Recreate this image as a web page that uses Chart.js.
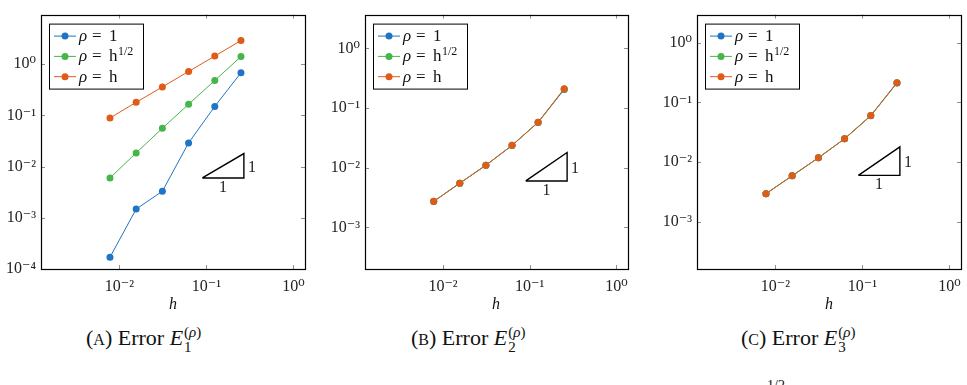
<!DOCTYPE html>
<html>
<head>
<meta charset="utf-8">
<script src="https://cdn.jsdelivr.net/npm/chart.js@4.4.0/dist/chart.umd.min.js"></script>
<style>
body { margin: 0; background: #fff; width: 967px; height: 385px; overflow: hidden; position: relative; font-family: 'Liberation Serif', 'DejaVu Serif', serif; color: #111; }
canvas { position: absolute; top: 0; }
.hlab { position: absolute; top: 296px; font-style: italic; font-size: 16px; line-height: 16px; transform: translateX(-50%); }
.cap { position: absolute; top: 325px; font-size: 22px; line-height: 25px; white-space: nowrap; }
.cap .sc { font-size: 16px; }
.cap .ss { display: inline-block; vertical-align: -7px; font-size: 15px; line-height: 15px; margin-left: 1px; }
.cap .ss span { display: block; }
.frag { position: absolute; top: 379px; left: 767px; font-size: 14px; line-height: 14px; }
</style>
</head>
<body>
<canvas id="chartA" width="315" height="300"></canvas>
<canvas id="chartB" width="314" height="300"></canvas>
<canvas id="chartC" width="315" height="300"></canvas>

<div class="hlab" style="left:173px">h</div>
<div class="hlab" style="left:496px">h</div>
<div class="hlab" style="left:829px">h</div>

<div class="cap" style="left:86px">(<span class="sc">A</span>) Error <i>E</i><span class="ss"><span>(<i>ρ</i>)</span><span>1</span></span></div>
<div class="cap" style="left:411px">(<span class="sc">B</span>) Error <i>E</i><span class="ss"><span>(<i>ρ</i>)</span><span>2</span></span></div>
<div class="cap" style="left:741px">(<span class="sc">C</span>) Error <i>E</i><span class="ss"><span>(<i>ρ</i>)</span><span>3</span></span></div>
<div class="frag">1/2</div>

<script>
// mesh sizes h
const hValues = [0.0078125, 0.015625, 0.03125, 0.0625, 0.125, 0.25];

// panel A: error E1
const errA_rho1 = [1.7e-4, 1.48e-3, 3.3e-3, 0.029, 0.15, 0.68];
const errA_rhoSqrtH = [6.0e-3, 0.0185, 0.056, 0.165, 0.48, 1.41];
const errA_rhoH = [0.089, 0.18, 0.36, 0.72, 1.44, 2.9];

// panel B: error E2
const errB_rho1 = [2.72e-3, 5.5e-3, 0.011, 0.0236, 0.0575, 0.205];
const errB_rhoSqrtH = [2.73e-3, 5.5e-3, 0.011, 0.0237, 0.058, 0.209];
const errB_rhoH = [2.73e-3, 5.5e-3, 0.011, 0.0237, 0.058, 0.212];

// panel C: error E3
const errC_rho1 = [2.95e-3, 5.9e-3, 0.0118, 0.0245, 0.0595, 0.211];
const errC_rhoSqrtH = [2.96e-3, 5.9e-3, 0.0118, 0.0246, 0.060, 0.213];
const errC_rhoH = [2.96e-3, 5.9e-3, 0.0118, 0.0246, 0.060, 0.214];

// slope-1 reference triangle
const slopeX = [0.09, 0.27, 0.27, 0.09];
const slopeY = [0.006, 0.006, 0.018, 0.006];

// axes
const xRange = [0.00126, 1.36];
const xTicks = [0.01, 0.1, 1];
const xTickLabels = ['10⁻²', '10⁻¹', '10⁰'];
const yRangeA = [1e-4, 9.3];
const yRangeB = [2.0e-4, 3.7];
const yRangeC = [1.62e-4, 2.95];
const yTicksA = [1e-4, 1e-3, 1e-2, 1e-1, 1];
const yTickLabelsA = ['10⁻⁴', '10⁻³', '10⁻²', '10⁻¹', '10⁰'];
const yTicksBC = [1e-3, 1e-2, 1e-1, 1];
const yTickLabelsBC = ['10⁻³', '10⁻²', '10⁻¹', '10⁰'];

const seriesColors = ['#1f74c6', '#45b649', '#e05a18'];
const legendValues = ['1', 'h^1/2', 'h'];

const serif = "'Liberation Serif', 'DejaVu Serif', serif";

function drawLegend(chart) {
    const ctx = chart.ctx;
    const a = chart.chartArea;
    const x0 = a.left + 8, y0 = a.top + 9;
    ctx.save();
    ctx.fillStyle = '#fff';
    ctx.fillRect(x0, y0, 94, 65);
    ctx.strokeStyle = '#000';
    ctx.lineWidth = 1;
    ctx.strokeRect(x0 + 0.5, y0 + 0.5, 94, 65);
    legendValues.forEach((v, i) => {
        const cy = y0 + 12.5 + i * 20.3;
        ctx.strokeStyle = seriesColors[i];
        ctx.lineWidth = 1;
        ctx.beginPath();
        ctx.moveTo(x0 + 5, cy);
        ctx.lineTo(x0 + 27, cy);
        ctx.stroke();
        ctx.fillStyle = seriesColors[i];
        ctx.beginPath();
        ctx.arc(x0 + 16, cy, 3.5, 0, Math.PI * 2);
        ctx.fill();
        ctx.fillStyle = '#111';
        ctx.textBaseline = 'alphabetic';
        ctx.font = 'italic 17px ' + serif;
        ctx.fillText('ρ', x0 + 30, cy + 5);
        ctx.font = '17px ' + serif;
        ctx.fillText('=', x0 + 43, cy + 5);
        if (v === 'h^1/2') {
            ctx.fillText('h', x0 + 60, cy + 5);
            ctx.font = '12px ' + serif;
            ctx.fillText('1/2', x0 + 69, cy - 1);
        } else {
            ctx.fillText(v, x0 + 60, cy + 5);
        }
    });
    ctx.restore();
}

const framePlugin = {
    id: 'frame',
    afterDraw(chart) {
        const ctx = chart.ctx;
        const a = chart.chartArea;
        const xs = chart.scales.x, ys = chart.scales.y;
        ctx.save();
        // inner tick marks on all four sides
        ctx.strokeStyle = '#8c8c8c';
        ctx.lineWidth = 1;
        ctx.beginPath();
        xs.ticks.forEach(t => {
            const px = Math.round(xs.getPixelForValue(t.value)) + 0.5;
            ctx.moveTo(px, a.bottom); ctx.lineTo(px, a.bottom - 4);
            ctx.moveTo(px, a.top); ctx.lineTo(px, a.top + 4);
        });
        ys.ticks.forEach(t => {
            const py = Math.round(ys.getPixelForValue(t.value)) + 0.5;
            ctx.moveTo(a.left, py); ctx.lineTo(a.left + 4, py);
            ctx.moveTo(a.right, py); ctx.lineTo(a.right - 4, py);
        });
        ctx.stroke();
        // axis box
        ctx.strokeStyle = '#000';
        ctx.lineWidth = 1.2;
        ctx.strokeRect(Math.round(a.left) + 0.5, Math.round(a.top) + 0.5,
            Math.round(a.right - a.left), Math.round(a.bottom - a.top));
        // slope triangle labels
        ctx.fillStyle = '#222';
        ctx.font = '16px ' + serif;
        ctx.textAlign = 'center';
        ctx.textBaseline = 'alphabetic';
        const midX = Math.sqrt(slopeX[0] * slopeX[1]);
        const midY = Math.sqrt(slopeY[1] * slopeY[2]);
        ctx.fillText('1', xs.getPixelForValue(midX), ys.getPixelForValue(slopeY[0]) + 14);
        ctx.textAlign = 'left';
        ctx.fillText('1', xs.getPixelForValue(slopeX[1]) + 4, ys.getPixelForValue(midY) + 6);
        ctx.restore();
        drawLegend(chart);
    }
};

function makePanel(id, left, top, plotWidth, series, yRange, yTicks, yLabels) {
    const canvas = document.getElementById(id);
    canvas.style.left = left + 'px';
    // dataset 0 is drawn on top by default; reverse so orange ends on top
    const datasets = series.map((vals, i) => ({
        data: hValues.map((h, k) => ({ x: h, y: vals[k] })),
        borderColor: seriesColors[i],
        backgroundColor: seriesColors[i],
        borderWidth: 1,
        pointRadius: 3.5,
        pointBorderWidth: 0,
        pointBackgroundColor: seriesColors[i],
        tension: 0,
        order: 3 - i
    }));
    datasets.push({
        data: slopeX.map((x, k) => ({ x: x, y: slopeY[k] })),
        borderColor: '#000',
        borderWidth: 1.4,
        pointRadius: 0,
        tension: 0,
        order: 5
    });
    new Chart(canvas, {
        type: 'line',
        data: { datasets: datasets },
        options: {
            responsive: false,
            animation: false,
            devicePixelRatio: 1,
            layout: { padding: { top: top, right: canvas.width - 41 - plotWidth, left: 0, bottom: 0 } },
            plugins: { legend: { display: false }, tooltip: { enabled: false } },
            scales: {
                x: {
                    type: 'logarithmic',
                    min: xRange[0],
                    max: xRange[1],
                    afterBuildTicks: s => { s.ticks = xTicks.map(v => ({ value: v })); },
                    afterFit: s => { s.height = 31; },
                    grid: { display: false, drawTicks: false },
                    border: { display: false },
                    ticks: {
                        autoSkip: false, maxRotation: 0, padding: 8,
                        color: '#222',
                        font: { family: serif, size: 16 },
                        callback: (v, i) => xTickLabels[i]
                    }
                },
                y: {
                    type: 'logarithmic',
                    min: yRange[0],
                    max: yRange[1],
                    afterBuildTicks: s => { s.ticks = yTicks.map(v => ({ value: v })); },
                    afterFit: s => { s.width = 41; },
                    grid: { display: false, drawTicks: false },
                    border: { display: false },
                    ticks: {
                        autoSkip: false, padding: 5,
                        color: '#222',
                        font: { family: serif, size: 16 },
                        callback: (v, i) => yLabels[i]
                    }
                }
            }
        },
        plugins: [framePlugin]
    });
}

makePanel('chartA', 0, 5, 264, [errA_rho1, errA_rhoSqrtH, errA_rhoH], yRangeA, yTicksA, yTickLabelsA);
makePanel('chartB', 324, 6, 263, [errB_rho1, errB_rhoSqrtH, errB_rhoH], yRangeB, yTicksBC, yTickLabelsBC);
makePanel('chartC', 656, 6, 264, [errC_rho1, errC_rhoSqrtH, errC_rhoH], yRangeC, yTicksBC, yTickLabelsBC);
</script>
</body>
</html>
